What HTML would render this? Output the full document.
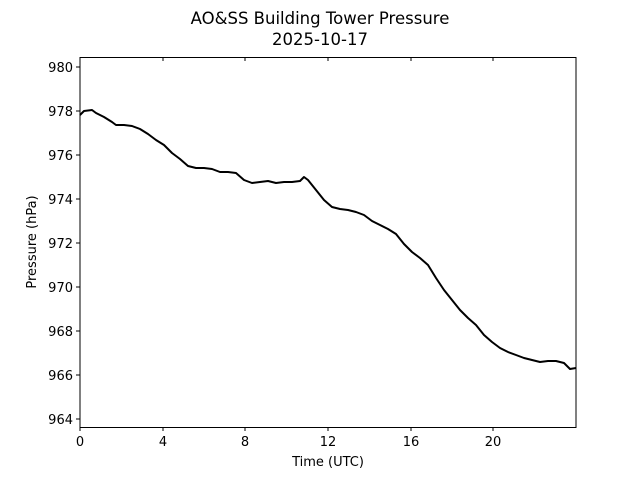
<!DOCTYPE html>
<html><head><style>body{margin:0;background:#fff}svg{display:block}text{font-family:"DejaVu Sans","Liberation Sans",sans-serif;fill:#000}</style></head>
<body>
<svg width="640" height="480" viewBox="0 0 640 480">
<text x="320" y="24" font-size="16.5" text-anchor="middle">AO&amp;SS Building Tower Pressure</text>
<text x="320" y="45" font-size="16.5" text-anchor="middle">2025-10-17</text>
<rect x="80" y="57.5" width="496" height="370" fill="none" stroke="#000" stroke-width="1"/>
<g stroke="#000" stroke-width="1">
<line x1="80" y1="427" x2="80" y2="431"/><line x1="163" y1="427" x2="163" y2="431"/><line x1="245" y1="427" x2="245" y2="431"/><line x1="328" y1="427" x2="328" y2="431"/><line x1="411" y1="427" x2="411" y2="431"/><line x1="493" y1="427" x2="493" y2="431"/>
<line x1="163" y1="57" x2="163" y2="61"/><line x1="245" y1="57" x2="245" y2="61"/><line x1="328" y1="57" x2="328" y2="61"/><line x1="411" y1="57" x2="411" y2="61"/><line x1="493" y1="57" x2="493" y2="61"/>
<line x1="76" y1="67" x2="80" y2="67"/><line x1="76" y1="111" x2="80" y2="111"/><line x1="76" y1="155" x2="80" y2="155"/><line x1="76" y1="199" x2="80" y2="199"/><line x1="76" y1="243" x2="80" y2="243"/><line x1="76" y1="287" x2="80" y2="287"/><line x1="76" y1="331" x2="80" y2="331"/><line x1="76" y1="375" x2="80" y2="375"/><line x1="76" y1="419" x2="80" y2="419"/>
</g>
<g font-size="13" text-anchor="middle">
<text x="80" y="446">0</text><text x="163" y="446">4</text><text x="245" y="446">8</text><text x="328" y="446">12</text><text x="411" y="446">16</text><text x="493" y="446">20</text>
<text x="328" y="466">Time (UTC)</text>
</g>
<g font-size="13" text-anchor="end">
<text x="73" y="72">980</text><text x="73" y="116">978</text><text x="73" y="160">976</text><text x="73" y="204">974</text><text x="73" y="248">972</text><text x="73" y="292">970</text><text x="73" y="336">968</text><text x="73" y="380">966</text><text x="73" y="424">964</text>
</g>
<text transform="translate(36,242) rotate(-90)" font-size="13" text-anchor="middle">Pressure (hPa)</text>
<polyline fill="none" stroke="#000" stroke-width="2" stroke-linejoin="round" points="80,115 84,111 92,110 96,113 104,117 112,122 116,125 124,125 132,126 140,129 148,134 156,140 164,145 172,153 180,159 188,166 196,168 204,168 212,169 220,172 228,172 236,173 244,180 252,183 260,182 268,181 276,183 284,182 292,182 300,181 304,177 308,180 316,190 324,200 332,207 340,209 348,210 356,212 364,215 372,221 380,225 388,229 396,234 404,244 412,252 420,258 428,265 436,278 444,290 452,300 460,310 468,318 476,325 484,335 492,342 500,348 508,352 516,355 524,358 532,360 540,362 548,361 556,361 564,363 570,369 576,368"/>
</svg>
</body></html>
